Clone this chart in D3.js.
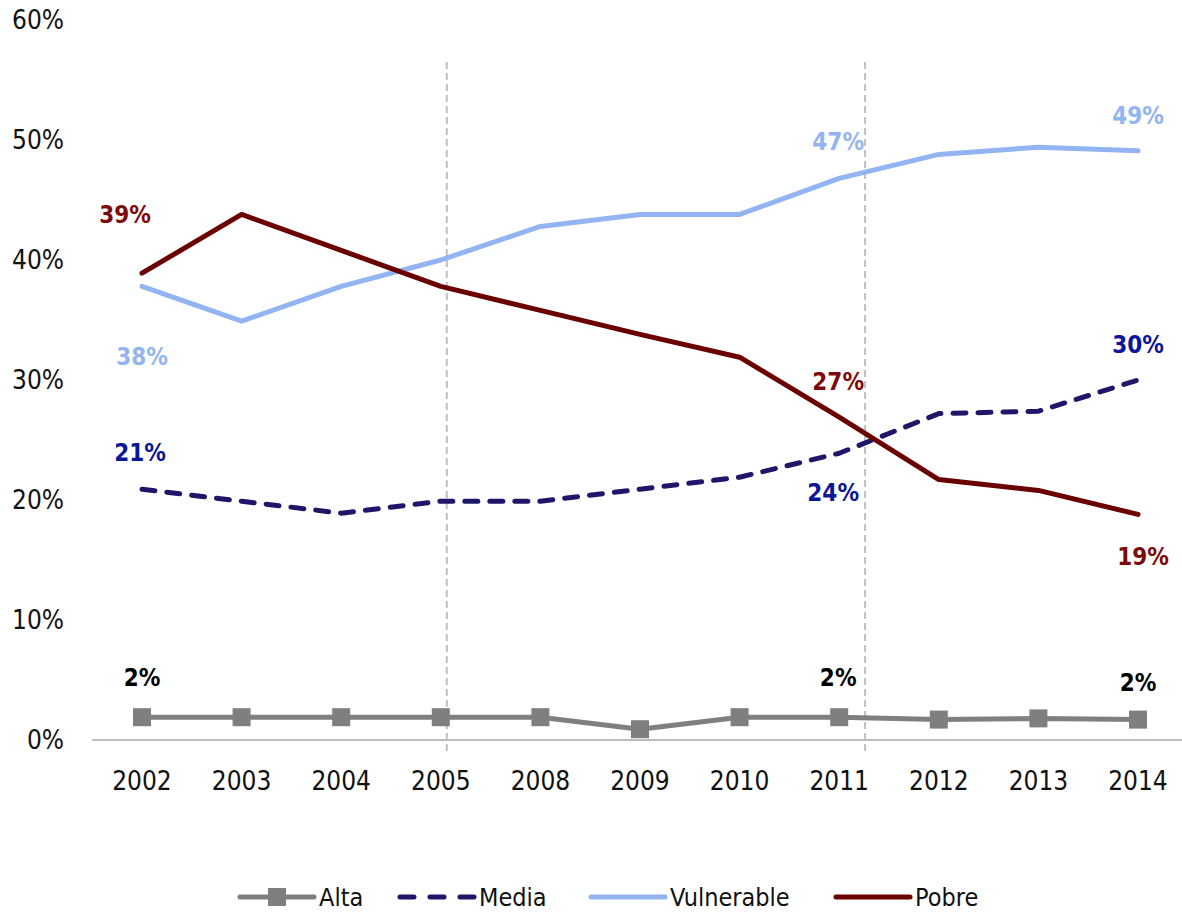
<!DOCTYPE html>
<html>
<head>
<meta charset="utf-8">
<script src="https://cdn.jsdelivr.net/npm/d3@7"></script>
<style>
  body { margin: 0; background: #fff; }
  text { font-family: "Liberation Sans Narrow", "DejaVu Sans Condensed", Lato, sans-serif; }
</style>
</head>
<body>
<script>
const width = 1182;
const height = 913;

const years = ["2002", "2003", "2004", "2005", "2008", "2009", "2010", "2011", "2012", "2013", "2014"];
const alta = [1.9, 1.9, 1.9, 1.9, 1.9, 0.9, 1.9, 1.9, 1.7, 1.8, 1.7];
const media = [20.9, 19.9, 18.9, 19.9, 19.9, 20.9, 21.9, 23.9, 27.2, 27.4, 30];
const vulnerable = [37.8, 34.9, 37.8, 40, 42.8, 43.8, 43.8, 46.8, 48.8, 49.4, 49.1];
const pobre = [38.9, 43.8, 40.8, 37.8, 35.8, 33.8, 31.9, 26.9, 21.7, 20.8, 18.8];
const yTicks = [0, 10, 20, 30, 40, 50, 60];

const series = [
  { name: "Alta", values: alta, color: "#7f7f7f", dash: null, legendDash: null, marker: true, labelColor: "#000" },
  { name: "Media", values: media, color: "#1f1669", dash: "13,12", legendDash: "14,16", marker: false, labelColor: "#0c1696" },
  { name: "Vulnerable", values: vulnerable, color: "#93b4f2", dash: null, legendDash: null, marker: false, labelColor: "#93b4f2" },
  { name: "Pobre", values: pobre, color: "#6a0000", dash: null, legendDash: null, marker: false, labelColor: "#7d0a0a" }
];

// which points get a value label, and where it sits relative to the point
const labelSpots = [
  { s: "Pobre", year: "2002", dx: -17, dy: -59 },
  { s: "Pobre", year: "2011", dx: -1, dy: -36 },
  { s: "Pobre", year: "2014", dx: 5, dy: 42 },
  { s: "Vulnerable", year: "2002", dx: 0, dy: 70 },
  { s: "Vulnerable", year: "2011", dx: -1, dy: -37 },
  { s: "Vulnerable", year: "2014", dx: 0, dy: -35 },
  { s: "Media", year: "2002", dx: -2, dy: -37 },
  { s: "Media", year: "2011", dx: -6, dy: 39 },
  { s: "Media", year: "2014", dx: 0, dy: -36 },
  { s: "Alta", year: "2002", dx: 0, dy: -40 },
  { s: "Alta", year: "2011", dx: -1, dy: -40 },
  { s: "Alta", year: "2014", dx: 0, dy: -37 }
];

const svg = d3.select("body").append("svg")
  .attr("width", width)
  .attr("height", height);

const x = d3.scalePoint()
  .domain(years)
  .range([142, 1138]);

const step = x.step();

const y = d3.scaleLinear()
  .domain([0, 60])
  .range([740, 20]);

// y tick labels (no gridlines)
svg.append("g")
  .selectAll("text")
  .data(yTicks)
  .enter().append("text")
  .attr("x", 64)
  .attr("y", d => y(d))
  .attr("dy", "0.36em")
  .attr("text-anchor", "end")
  .style("font-size", "26px")
  .style("fill", "#111")
  .text(d => d + "%");

// x axis line
svg.append("line")
  .attr("x1", x(years[0]) - step / 2)
  .attr("x2", x(years[years.length - 1]) + step / 2)
  .attr("y1", y(0))
  .attr("y2", y(0))
  .style("stroke", "#a6a6a6")
  .style("stroke-width", 1.5);

svg.append("g")
  .selectAll("text")
  .data(years)
  .enter().append("text")
  .attr("x", d => x(d))
  .attr("y", 790)
  .attr("text-anchor", "middle")
  .style("font-size", "26px")
  .style("fill", "#111")
  .text(d => d);

// vertical dashed separators
const separators = [
  { year: "2005", off: 0.06 },
  { year: "2011", off: 0.26 }
];
svg.selectAll(".sep")
  .data(separators)
  .enter().append("line")
  .attr("class", "sep")
  .attr("x1", d => x(d.year) + d.off * step)
  .attr("x2", d => x(d.year) + d.off * step)
  .attr("y1", 62)
  .attr("y2", 752)
  .style("stroke", "#bfbfbf")
  .style("stroke-width", 2)
  .style("stroke-dasharray", "7,4");

const line = d3.line()
  .x((d, i) => x(years[i]))
  .y(d => y(d));

series.forEach(s => {
  svg.append("path")
    .datum(s.values)
    .attr("d", line)
    .style("fill", "none")
    .style("stroke", s.color)
    .style("stroke-width", 5)
    .style("stroke-linecap", "round")
    .style("stroke-linejoin", "round")
    .style("stroke-dasharray", s.dash);

  if (s.marker) {
    svg.append("g")
      .selectAll("rect")
      .data(s.values)
      .enter().append("rect")
      .attr("x", (d, i) => x(years[i]) - 9)
      .attr("y", d => y(d) - 9)
      .attr("width", 18)
      .attr("height", 18)
      .style("fill", s.color);
  }
});

// value labels
svg.append("g")
  .selectAll("text")
  .data(labelSpots)
  .enter().append("text")
  .attr("x", d => x(d.year) + d.dx)
  .attr("y", d => {
    const s = series.find(v => v.name === d.s);
    return y(s.values[years.indexOf(d.year)]) + d.dy;
  })
  .attr("dy", "0.36em")
  .attr("text-anchor", "middle")
  .style("font-size", "24px")
  .style("font-weight", "bold")
  .style("fill", d => series.find(v => v.name === d.s).labelColor)
  .text(d => {
    const s = series.find(v => v.name === d.s);
    return Math.round(s.values[years.indexOf(d.year)]) + "%";
  });

// legend
const legendItems = [
  { s: series[0], x0: 240 },
  { s: series[1], x0: 400 },
  { s: series[2], x0: 591 },
  { s: series[3], x0: 836 }
];
const ly = 897;
const legend = svg.append("g");
legendItems.forEach(it => {
  legend.append("line")
    .attr("x1", it.x0)
    .attr("x2", it.x0 + 74)
    .attr("y1", ly)
    .attr("y2", ly)
    .style("stroke", it.s.color)
    .style("stroke-width", 5)
    .style("stroke-linecap", "round")
    .style("stroke-dasharray", it.s.legendDash);
  if (it.s.marker) {
    legend.append("rect")
      .attr("x", it.x0 + 37 - 9)
      .attr("y", ly - 9)
      .attr("width", 18)
      .attr("height", 18)
      .style("fill", it.s.color);
  }
  legend.append("text")
    .attr("x", it.x0 + 79)
    .attr("y", ly)
    .attr("dy", "0.34em")
    .style("font-size", "25px")
    .style("fill", "#111")
    .text(it.s.name);
});
</script>
</body>
</html>
